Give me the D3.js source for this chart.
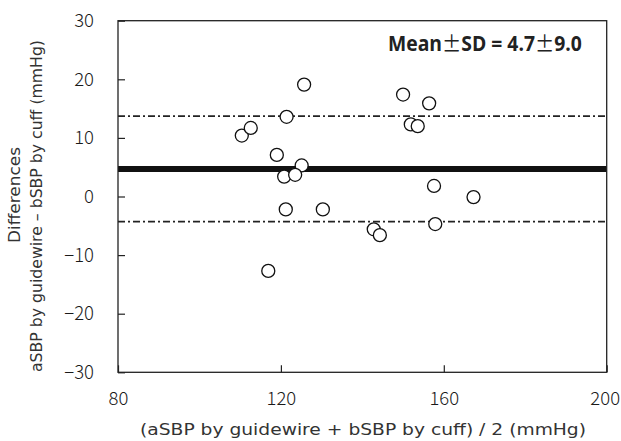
<!DOCTYPE html>
<html>
<head>
<meta charset="utf-8">
<script src="https://cdn.jsdelivr.net/npm/d3@7/dist/d3.min.js"></script>
<style>
  html, body { margin: 0; padding: 0; background: #fff; }
  svg { display: block; }
</style>
</head>
<body>
<svg id="chart" width="621" height="441"></svg>
<script>
// Bland–Altman data: mean of the two methods (x) vs. their difference (y)
const meanValues = [110.4, 112.6, 121.4, 125.7, 119.0, 125.1, 120.8, 123.5, 121.2, 130.3,
                    116.9, 150.0, 156.4, 151.9, 153.6, 157.6, 167.3, 157.9, 142.8, 144.3];
const diffValues = [10.4, 11.7, 13.6, 19.1, 7.1, 5.3, 3.4, 3.7, -2.2, -2.2,
                    -12.7, 17.4, 15.9, 12.3, 12.0, 1.8, -0.1, -4.7, -5.6, -6.6];
const meanDiff = 4.7;
const sdDiff = 9.0;
const xTicks = [80, 120, 160, 200];
const yTicks = [30, 20, 10, 0, -10, -20, -30];

const W = 621, H = 441;
const margin = { top: 20.7, right: 14.3, bottom: 68.7, left: 118 };
const iw = W - margin.left - margin.right;
const ih = H - margin.top - margin.bottom;

const svg = d3.select("#chart");
const g = svg.append("g").attr("transform", `translate(${margin.left},${margin.top})`);

const x = d3.scaleLinear().domain([80, 200]).range([0, iw]);
const y = d3.scaleLinear().domain([-30, 30]).range([ih, 0]);

const tickFont = "'Noto Sans CJK JP', 'Noto Sans', sans-serif";
const titleFont = "'DejaVu Sans', sans-serif";

// Axes with inward ticks
const yAxis = d3.axisLeft(y).tickValues(yTicks).tickSize(-7).tickPadding(24).tickFormat(d3.format("d"));
const yG = g.append("g").call(yAxis);
yG.select(".domain").remove();
yG.selectAll(".tick line").attr("stroke", "#222").attr("stroke-width", 1.2);
yG.selectAll(".tick text").attr("font-family", tickFont).attr("font-weight", 300)
  .attr("font-size", 18.5).attr("fill", "#1a1a1a");

const xAxis = d3.axisBottom(x).tickValues(xTicks).tickSize(-7).tickPadding(20).tickFormat(d3.format("d"));
const xG = g.append("g").attr("transform", `translate(0,${ih})`).call(xAxis);
xG.select(".domain").remove();
xG.selectAll(".tick line").attr("stroke", "#222").attr("stroke-width", 1.2);
xG.selectAll(".tick text").attr("font-family", tickFont).attr("font-weight", 300)
  .attr("font-size", 18.5).attr("fill", "#1a1a1a");
// keep the last label inside the page
xG.selectAll(".tick text").filter(d => d === 200).attr("dx", -2);

// Limits of agreement (mean ± SD)
[meanDiff + sdDiff, meanDiff - sdDiff].forEach(v => {
  g.append("line")
    .attr("x1", 0).attr("x2", iw)
    .attr("y1", y(v)).attr("y2", y(v))
    .attr("stroke", "#222").attr("stroke-width", 1.7)
    .attr("stroke-dasharray", "7,3,2,3");
});

// Mean difference
g.append("line")
  .attr("x1", 0).attr("x2", iw)
  .attr("y1", y(meanDiff)).attr("y2", y(meanDiff))
  .attr("stroke", "#111").attr("stroke-width", 6);

// Points
g.selectAll("circle.pt")
  .data(meanValues.map((m, i) => [m, diffValues[i]]))
  .enter().append("circle")
  .attr("class", "pt")
  .attr("cx", d => x(d[0]))
  .attr("cy", d => y(d[1]))
  .attr("r", 6.5)
  .attr("fill", "#fff")
  .attr("stroke", "#111")
  .attr("stroke-width", 1.3);

// Frame
g.append("rect")
  .attr("x", 0).attr("y", 0).attr("width", iw).attr("height", ih)
  .attr("fill", "none").attr("stroke", "#222").attr("stroke-width", 1.3);

// Annotation: bold condensed text with wide ± signs
const noteG = svg.append("g");
const note = noteG.append("text")
  .attr("x", 0).attr("y", 0)
  .attr("font-family", "'Open Sans', sans-serif")
  .attr("font-weight", "bold")
  .attr("font-size", 21)
  .attr("fill", "#222");
const pm = () => note.append("tspan")
  .attr("font-family", "'Noto Sans CJK JP', sans-serif")
  .attr("font-weight", "normal")
  .text("\u00B1");
note.append("tspan").text("Mean");
pm();
note.append("tspan").text(`SD = ${meanDiff.toFixed(1)}`);
pm();
note.append("tspan").text(sdDiff.toFixed(1));
const noteW = note.node().getComputedTextLength();
noteG.attr("transform", `translate(388,51) scale(${194 / noteW},1)`);

// Axis titles
svg.append("text")
  .attr("x", 363).attr("y", 435)
  .attr("text-anchor", "middle")
  .attr("font-family", titleFont)
  .attr("font-size", 16)
  .attr("textLength", 446)
  .attr("lengthAdjust", "spacingAndGlyphs")
  .attr("fill", "#333")
  .text("(aSBP by guidewire + bSBP by cuff) / 2 (mmHg)");

svg.append("text")
  .attr("transform", `translate(20,195) rotate(-90)`)
  .attr("text-anchor", "middle")
  .attr("font-family", titleFont)
  .attr("font-size", 15)
  .attr("textLength", 96)
  .attr("lengthAdjust", "spacingAndGlyphs")
  .attr("fill", "#333")
  .text("Differences");

svg.append("text")
  .attr("transform", `translate(42,206) rotate(-90)`)
  .attr("text-anchor", "middle")
  .attr("font-family", titleFont)
  .attr("font-size", 15)
  .attr("textLength", 332)
  .attr("lengthAdjust", "spacingAndGlyphs")
  .attr("fill", "#333")
  .text("aSBP by guidewire \u2013 bSBP by cuff (mmHg)");
</script>
</body>
</html>
